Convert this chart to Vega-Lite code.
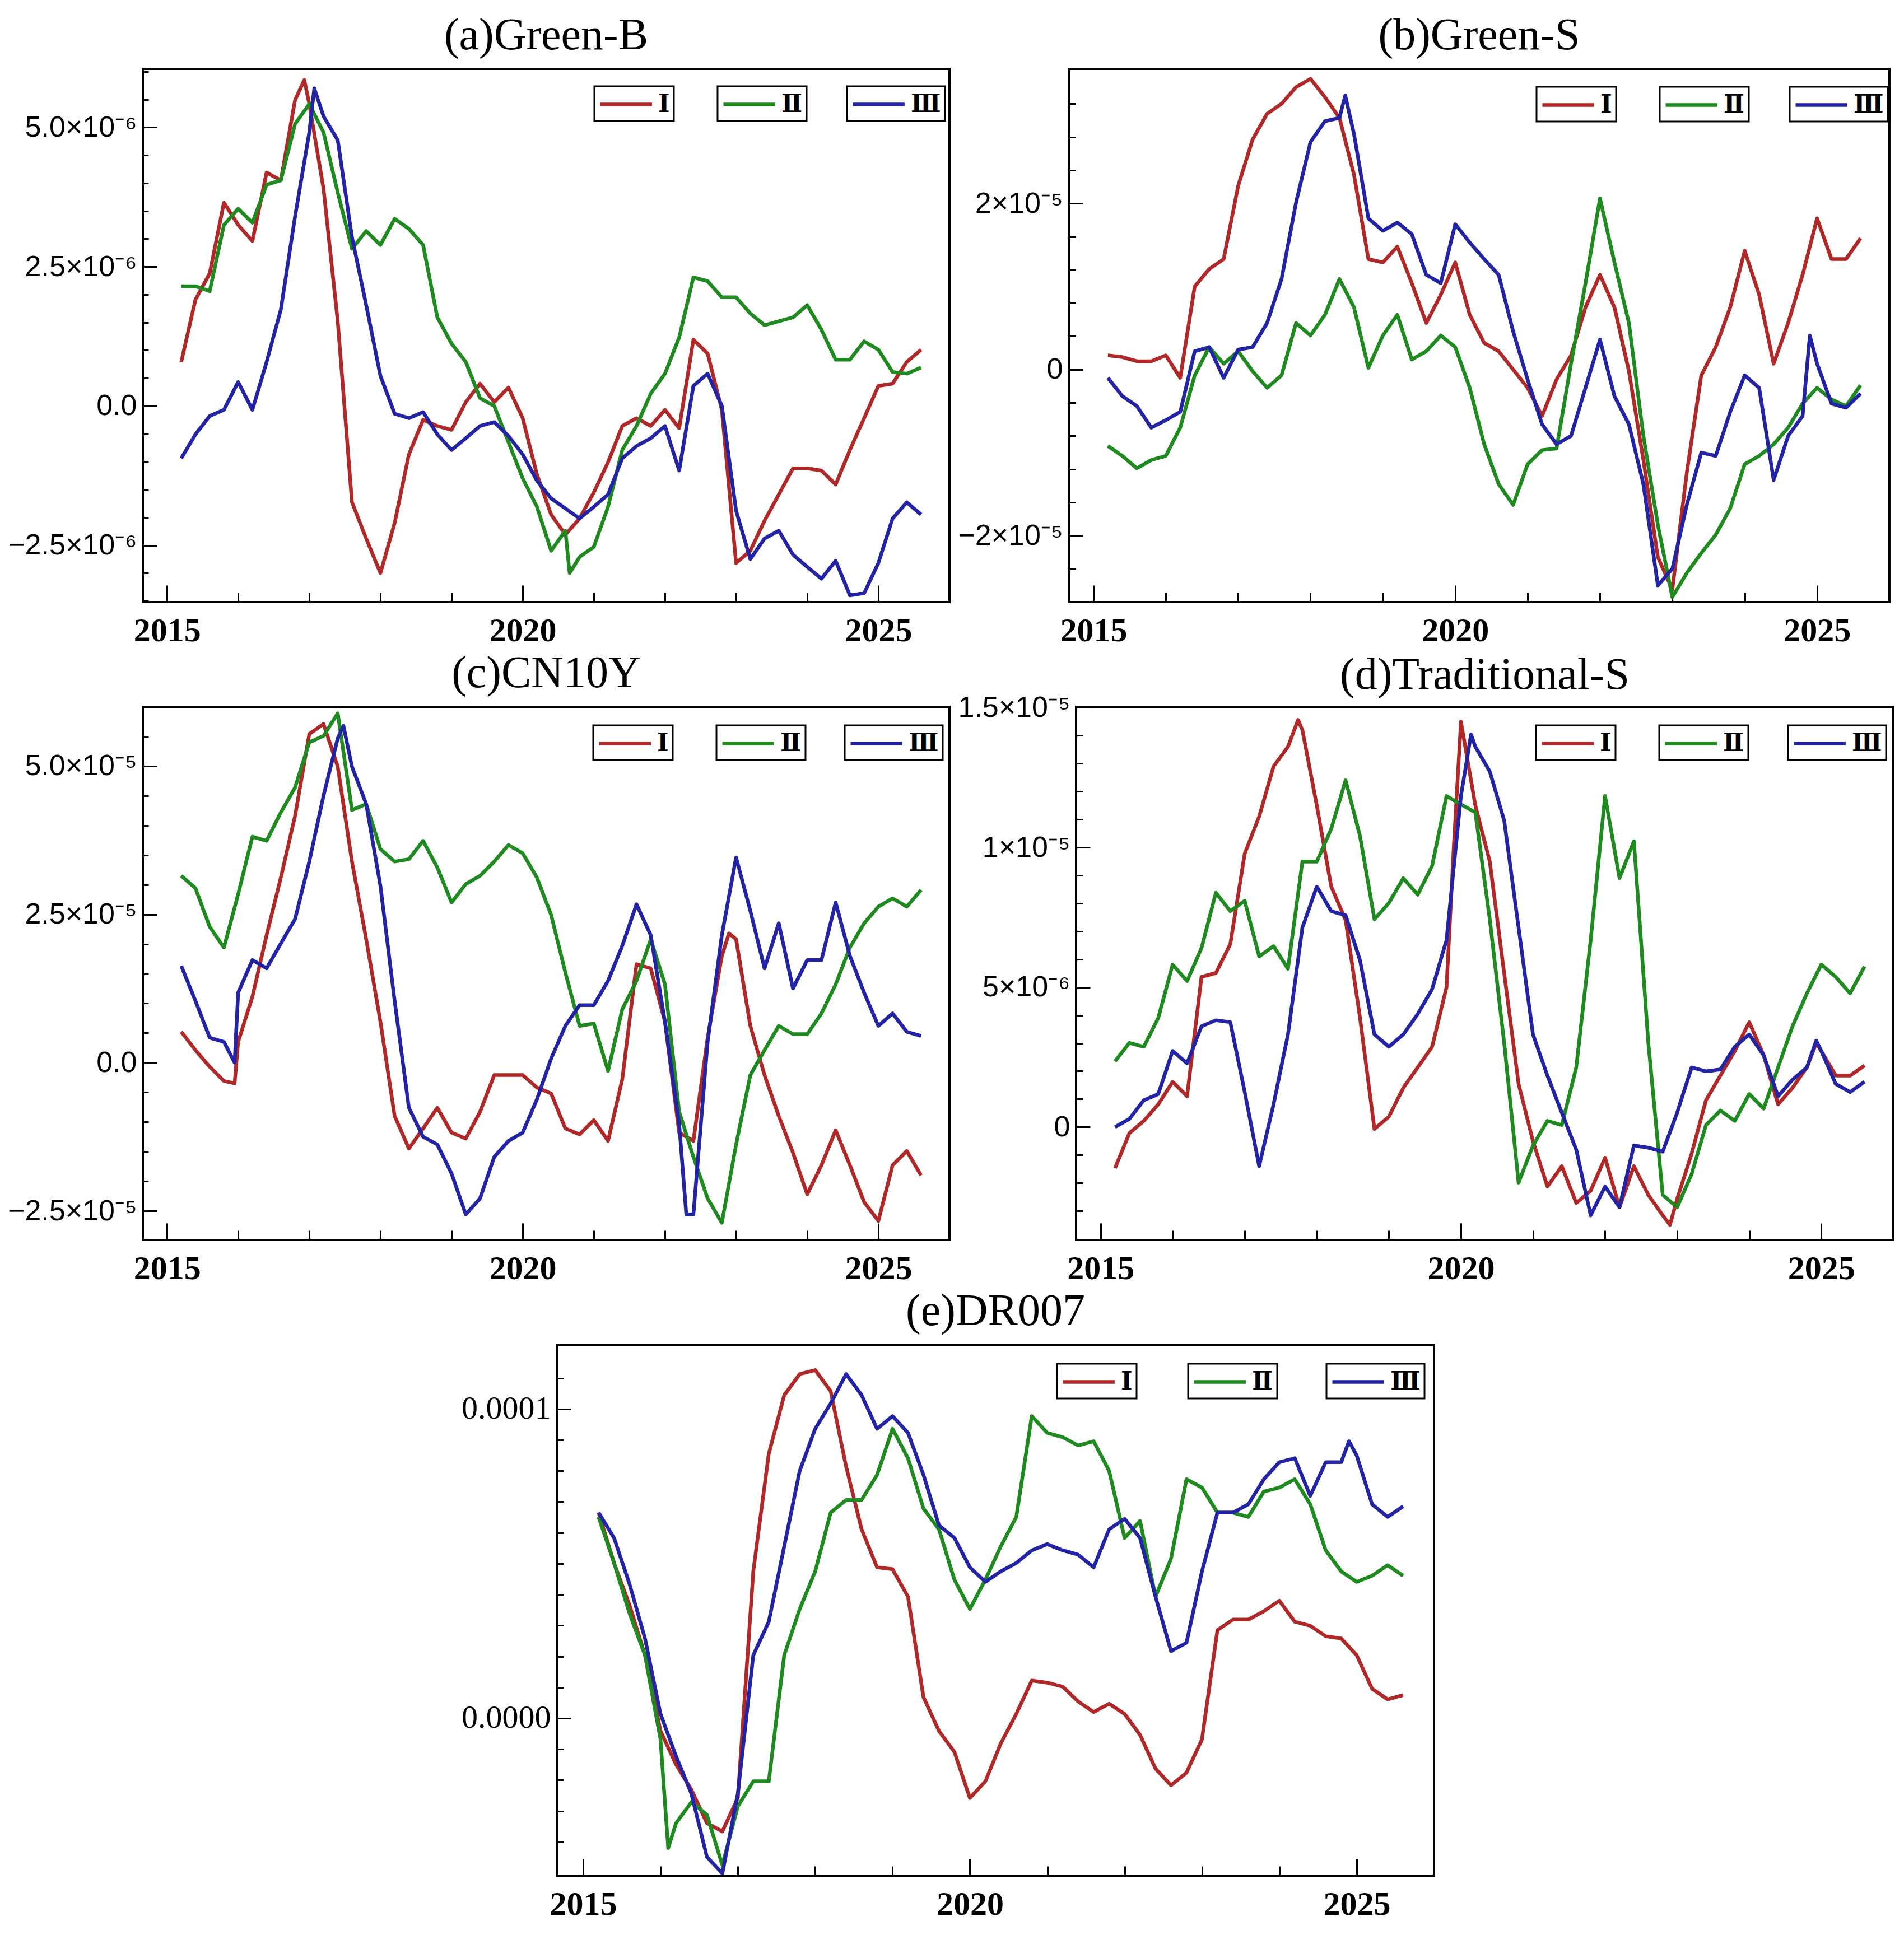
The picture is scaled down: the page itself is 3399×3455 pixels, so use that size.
{
  "$schema": "https://vega.github.io/schema/vega-lite/v6.json",
  "background": "white",
  "padding": {"left": 11, "top": 22, "right": 0, "bottom": 0},
  "spacing": 3,
  "config": {
    "font": "Liberation Serif",
    "view": {"stroke": "#000", "strokeWidth": 4},
    "mark": {"invalid": "filter"},
    "line": {"strokeWidth": 6.5, "strokeJoin": "round"},
    "title": {"font": "Liberation Serif", "fontSize": 80, "fontWeight": "normal", "color": "#000", "offset": 18},
    "axis": {"domain": false, "grid": false, "tickColor": "#000", "tickWidth": 3, "labelColor": "#000"},
    "axisX": {"labelFont": "Liberation Serif", "labelFontSize": 60, "labelFontWeight": "bold", "labelPadding": 52},
    "axisY": {"labelFont": "Liberation Sans", "labelFontSize": 52, "labelPadding": 36, "labelLimit": 400},
    "legend": {"title": null, "symbolType": "M-1,0H3.2", "symbolSize": 1936, "symbolStrokeWidth": 6, "labelFont": "DejaVu Serif", "labelFontSize": 44, "labelFontWeight": "bold", "labelColor": "#000", "strokeColor": "#000", "strokeWidth": 3, "padding": 7, "labelOffset": 56}
  },
  "datasets": {
    "a": [
      {"x":2015.2,"I":0.79e-6,"II":2.15e-6,"III":-0.94e-6},
      {"x":2015.4,"I":1.91e-6,"II":2.15e-6,"III":-0.51e-6},
      {"x":2015.6,"I":2.38e-6,"II":2.06e-6,"III":-0.18e-6},
      {"x":2015.8,"I":3.65e-6,"II":3.25e-6,"III":-0.07e-6},
      {"x":2016.0,"I":3.25e-6,"II":3.54e-6,"III":0.43e-6},
      {"x":2016.2,"I":2.96e-6,"II":3.29e-6,"III":-0.07e-6},
      {"x":2016.4,"I":4.19e-6,"II":3.97e-6,"III":0.79e-6},
      {"x":2016.6,"I":4.05e-6,"II":4.05e-6,"III":1.73e-6},
      {"x":2016.8,"I":5.49e-6,"II":5.06e-6,"III":3.4e-6},
      {"x":2016.93,"I":5.85e-6},
      {"x":2017.0,"I":5.42e-6,"II":5.42e-6,"III":4.91e-6},
      {"x":2017.07,"III":5.7e-6},
      {"x":2017.2,"I":3.9e-6,"II":4.91e-6,"III":5.2e-6},
      {"x":2017.4,"I":1.52e-6,"II":3.83e-6,"III":4.77e-6},
      {"x":2017.6,"I":-1.73e-6,"II":2.82e-6,"III":3.03e-6},
      {"x":2017.8,"I":-2.38e-6,"II":3.14e-6,"III":1.81e-6},
      {"x":2018.0,"I":-3.0e-6,"II":2.89e-6,"III":0.54e-6},
      {"x":2018.2,"I":-2.1e-6,"II":3.36e-6,"III":-0.14e-6},
      {"x":2018.4,"I":-0.87e-6,"II":3.18e-6,"III":-0.22e-6},
      {"x":2018.6,"I":-0.25e-6,"II":2.89e-6,"III":-0.11e-6},
      {"x":2018.8,"I":-0.36e-6,"II":1.59e-6,"III":-0.51e-6},
      {"x":2019.0,"I":-0.43e-6,"II":1.12e-6,"III":-0.79e-6},
      {"x":2019.2,"I":0.07e-6,"II":0.79e-6,"III":-0.58e-6},
      {"x":2019.4,"I":0.4e-6,"II":0.14e-6,"III":-0.36e-6},
      {"x":2019.6,"I":0.07e-6,"II":0.0,"III":-0.29e-6},
      {"x":2019.8,"I":0.33e-6,"II":-0.65e-6,"III":-0.54e-6},
      {"x":2020.0,"I":-0.22e-6,"II":-1.3e-6,"III":-0.87e-6},
      {"x":2020.2,"I":-1.23e-6,"II":-1.81e-6,"III":-1.34e-6},
      {"x":2020.4,"I":-1.95e-6,"II":-2.6e-6,"III":-1.66e-6},
      {"x":2020.6,"I":-2.31e-6,"II":-2.24e-6,"III":-1.84e-6},
      {"x":2020.66,"II":-3.0e-6},
      {"x":2020.8,"I":-2.02e-6,"II":-2.71e-6,"III":-2.02e-6},
      {"x":2021.0,"I":-1.55e-6,"II":-2.53e-6,"III":-1.81e-6},
      {"x":2021.2,"I":-1.01e-6,"II":-1.81e-6,"III":-1.59e-6},
      {"x":2021.4,"I":-0.36e-6,"II":-0.79e-6,"III":-0.94e-6},
      {"x":2021.6,"I":-0.22e-6,"II":-0.36e-6,"III":-0.72e-6},
      {"x":2021.8,"I":-0.36e-6,"II":0.22e-6,"III":-0.58e-6},
      {"x":2022.0,"I":-0.07e-6,"II":0.58e-6,"III":-0.36e-6},
      {"x":2022.2,"I":-0.4e-6,"II":1.23e-6,"III":-1.16e-6},
      {"x":2022.4,"I":1.19e-6,"II":2.31e-6,"III":0.36e-6},
      {"x":2022.6,"I":0.94e-6,"II":2.24e-6,"III":0.58e-6},
      {"x":2022.8,"I":-0.07e-6,"II":1.95e-6,"III":0.0},
      {"x":2023.0,"I":-2.82e-6,"II":1.95e-6,"III":-1.88e-6},
      {"x":2023.2,"I":-2.6e-6,"II":1.66e-6,"III":-2.75e-6},
      {"x":2023.4,"I":-2.06e-6,"II":1.45e-6,"III":-2.38e-6},
      {"x":2023.6,"I":-1.59e-6,"II":1.52e-6,"III":-2.24e-6},
      {"x":2023.8,"I":-1.12e-6,"II":1.59e-6,"III":-2.67e-6},
      {"x":2024.0,"I":-1.12e-6,"II":1.81e-6,"III":-2.89e-6},
      {"x":2024.2,"I":-1.16e-6,"II":1.37e-6,"III":-3.1e-6},
      {"x":2024.4,"I":-1.41e-6,"II":0.83e-6,"III":-2.78e-6},
      {"x":2024.6,"I":-0.79e-6,"II":0.83e-6,"III":-3.4e-6},
      {"x":2024.8,"I":-0.22e-6,"II":1.16e-6,"III":-3.36e-6},
      {"x":2025.0,"I":0.36e-6,"II":1.01e-6,"III":-2.82e-6},
      {"x":2025.2,"I":0.4e-6,"II":0.61e-6,"III":-2.02e-6},
      {"x":2025.4,"I":0.79e-6,"II":0.58e-6,"III":-1.73e-6},
      {"x":2025.6,"I":1.01e-6,"II":0.69e-6,"III":-1.95e-6}
    ],
    "b": [
      {"x":2015.2,"I":0.17e-5,"II":-0.92e-5,"III":-0.1e-5},
      {"x":2015.4,"I":0.15e-5,"II":-1.04e-5,"III":-0.32e-5},
      {"x":2015.6,"I":0.1e-5,"II":-1.19e-5,"III":-0.44e-5},
      {"x":2015.8,"I":0.1e-5,"II":-1.09e-5,"III":-0.7e-5},
      {"x":2016.0,"I":0.17e-5,"II":-1.04e-5,"III":-0.61e-5},
      {"x":2016.2,"I":-0.1e-5,"II":-0.7e-5,"III":-0.51e-5},
      {"x":2016.4,"I":1.0e-5,"II":-0.07e-5,"III":0.22e-5},
      {"x":2016.6,"I":1.21e-5,"II":0.27e-5,"III":0.27e-5},
      {"x":2016.8,"I":1.33e-5,"II":0.07e-5,"III":-0.1e-5},
      {"x":2017.0,"I":2.21e-5,"II":0.22e-5,"III":0.24e-5},
      {"x":2017.2,"I":2.77e-5,"II":-0.02e-5,"III":0.27e-5},
      {"x":2017.4,"I":3.08e-5,"II":-0.22e-5,"III":0.56e-5},
      {"x":2017.6,"I":3.2e-5,"II":-0.07e-5,"III":1.09e-5},
      {"x":2017.8,"I":3.4e-5,"II":0.56e-5,"III":2.01e-5},
      {"x":2018.0,"I":3.5e-5,"II":0.41e-5,"III":2.74e-5},
      {"x":2018.2,"I":3.28e-5,"II":0.66e-5,"III":2.99e-5},
      {"x":2018.4,"I":3.03e-5,"II":1.09e-5,"III":3.03e-5},
      {"x":2018.48,"III":3.3e-5},
      {"x":2018.6,"I":2.35e-5,"II":0.75e-5,"III":2.84e-5},
      {"x":2018.8,"I":1.33e-5,"II":0.02e-5,"III":1.82e-5},
      {"x":2019.0,"I":1.29e-5,"II":0.41e-5,"III":1.67e-5},
      {"x":2019.2,"I":1.48e-5,"II":0.66e-5,"III":1.77e-5},
      {"x":2019.4,"I":1.04e-5,"II":0.12e-5,"III":1.63e-5},
      {"x":2019.6,"I":0.56e-5,"II":0.22e-5,"III":1.14e-5},
      {"x":2019.8,"I":0.9e-5,"II":0.41e-5,"III":1.04e-5},
      {"x":2020.0,"I":1.29e-5,"II":0.27e-5,"III":1.75e-5},
      {"x":2020.2,"I":0.66e-5,"II":-0.22e-5,"III":1.53e-5},
      {"x":2020.4,"I":0.32e-5,"II":-0.9e-5,"III":1.33e-5},
      {"x":2020.6,"I":0.22e-5,"II":-1.38e-5,"III":1.14e-5},
      {"x":2020.8,"I":0.0,"II":-1.63e-5,"III":0.46e-5},
      {"x":2021.0,"I":-0.22e-5,"II":-1.14e-5,"III":-0.12e-5},
      {"x":2021.2,"I":-0.56e-5,"II":-0.97e-5,"III":-0.66e-5},
      {"x":2021.4,"I":-0.12e-5,"II":-0.95e-5,"III":-0.9e-5},
      {"x":2021.6,"I":0.17e-5,"II":0.07e-5,"III":-0.8e-5},
      {"x":2021.8,"I":0.75e-5,"II":1.04e-5,"III":-0.22e-5},
      {"x":2022.0,"I":1.14e-5,"II":2.06e-5,"III":0.36e-5},
      {"x":2022.2,"I":0.75e-5,"II":1.29e-5,"III":-0.32e-5},
      {"x":2022.4,"I":-0.02e-5,"II":0.56e-5,"III":-0.66e-5},
      {"x":2022.6,"I":-1.09e-5,"II":-0.8e-5,"III":-1.38e-5},
      {"x":2022.8,"I":-2.26e-5,"II":-1.87e-5,"III":-2.6e-5},
      {"x":2023.0,"I":-2.65e-5,"II":-2.74e-5,"III":-2.4e-5},
      {"x":2023.2,"I":-1.24e-5,"II":-2.45e-5,"III":-1.63e-5},
      {"x":2023.4,"I":-0.07e-5,"II":-2.21e-5,"III":-1.0e-5},
      {"x":2023.6,"I":0.27e-5,"II":-1.99e-5,"III":-1.04e-5},
      {"x":2023.8,"I":0.75e-5,"II":-1.67e-5,"III":-0.51e-5},
      {"x":2024.0,"I":1.43e-5,"II":-1.14e-5,"III":-0.07e-5},
      {"x":2024.2,"I":0.9e-5,"II":-1.04e-5,"III":-0.22e-5},
      {"x":2024.4,"I":0.07e-5,"II":-0.9e-5,"III":-1.33e-5},
      {"x":2024.6,"I":0.56e-5,"II":-0.7e-5,"III":-0.8e-5},
      {"x":2024.8,"I":1.14e-5,"II":-0.41e-5,"III":-0.56e-5},
      {"x":2024.9,"III":0.41e-5},
      {"x":2025.0,"I":1.82e-5,"II":-0.22e-5,"III":0.07e-5},
      {"x":2025.2,"I":1.33e-5,"II":-0.36e-5,"III":-0.41e-5},
      {"x":2025.4,"I":1.33e-5,"II":-0.44e-5,"III":-0.46e-5},
      {"x":2025.6,"I":1.58e-5,"II":-0.19e-5,"III":-0.29e-5}
    ],
    "c": [
      {"x":2015.2,"I":0.52e-5,"II":3.15e-5,"III":1.63e-5},
      {"x":2015.4,"I":0.21e-5,"II":2.94e-5,"III":1.04e-5},
      {"x":2015.6,"I":-0.07e-5,"II":2.29e-5,"III":0.42e-5},
      {"x":2015.8,"I":-0.31e-5,"II":1.94e-5,"III":0.35e-5},
      {"x":2015.95,"I":-0.35e-5,"III":0.0},
      {"x":2016.0,"I":0.35e-5,"II":2.84e-5,"III":1.18e-5},
      {"x":2016.2,"I":1.11e-5,"II":3.81e-5,"III":1.73e-5},
      {"x":2016.4,"I":2.15e-5,"II":3.74e-5,"III":1.59e-5},
      {"x":2016.6,"I":3.12e-5,"II":4.22e-5,"III":2.01e-5},
      {"x":2016.8,"I":4.16e-5,"II":4.64e-5,"III":2.42e-5},
      {"x":2017.0,"I":5.54e-5,"II":5.4e-5,"III":3.39e-5},
      {"x":2017.2,"I":5.71e-5,"II":5.51e-5,"III":4.5e-5},
      {"x":2017.4,"I":4.99e-5,"II":5.89e-5,"III":5.47e-5},
      {"x":2017.48,"III":5.68e-5},
      {"x":2017.6,"I":3.39e-5,"II":4.26e-5,"III":4.99e-5},
      {"x":2017.8,"I":2.08e-5,"II":4.36e-5,"III":4.36e-5},
      {"x":2018.0,"I":0.69e-5,"II":3.6e-5,"III":2.98e-5},
      {"x":2018.2,"I":-0.9e-5,"II":3.39e-5,"III":1.04e-5},
      {"x":2018.4,"I":-1.45e-5,"II":3.43e-5,"III":-0.76e-5},
      {"x":2018.6,"I":-1.11e-5,"II":3.74e-5,"III":-1.25e-5},
      {"x":2018.8,"I":-0.76e-5,"II":3.29e-5,"III":-1.38e-5},
      {"x":2019.0,"I":-1.18e-5,"II":2.7e-5,"III":-1.87e-5},
      {"x":2019.2,"I":-1.28e-5,"II":3.01e-5,"III":-2.56e-5},
      {"x":2019.4,"I":-0.83e-5,"II":3.15e-5,"III":-2.29e-5},
      {"x":2019.6,"I":-0.21e-5,"II":3.39e-5,"III":-1.59e-5},
      {"x":2019.8,"I":-0.21e-5,"II":3.67e-5,"III":-1.32e-5},
      {"x":2020.0,"I":-0.21e-5,"II":3.53e-5,"III":-1.18e-5},
      {"x":2020.2,"I":-0.42e-5,"II":3.12e-5,"III":-0.62e-5},
      {"x":2020.4,"I":-0.52e-5,"II":2.49e-5,"III":0.07e-5},
      {"x":2020.6,"I":-1.11e-5,"II":1.52e-5,"III":0.62e-5},
      {"x":2020.8,"I":-1.21e-5,"II":0.62e-5,"III":0.97e-5},
      {"x":2021.0,"I":-0.97e-5,"II":0.66e-5,"III":0.97e-5},
      {"x":2021.2,"I":-1.32e-5,"II":-0.14e-5,"III":1.38e-5},
      {"x":2021.4,"I":-0.28e-5,"II":0.9e-5,"III":1.97e-5},
      {"x":2021.6,"I":1.66e-5,"II":1.38e-5,"III":2.67e-5},
      {"x":2021.8,"I":1.59e-5,"II":2.08e-5,"III":2.15e-5},
      {"x":2022.0,"I":0.69e-5,"II":1.32e-5,"III":0.69e-5},
      {"x":2022.2,"I":-1.18e-5,"II":-0.83e-5,"III":-1.04e-5},
      {"x":2022.3,"III":-2.56e-5},
      {"x":2022.4,"I":-1.32e-5,"II":-1.59e-5,"III":-2.56e-5},
      {"x":2022.6,"I":0.42e-5,"II":-2.29e-5,"III":0.35e-5},
      {"x":2022.8,"I":1.8e-5,"II":-2.7e-5,"III":2.15e-5},
      {"x":2022.9,"I":2.18e-5},
      {"x":2023.0,"I":2.08e-5,"II":-1.38e-5,"III":3.46e-5},
      {"x":2023.2,"I":0.62e-5,"II":-0.21e-5,"III":2.56e-5},
      {"x":2023.4,"I":-0.21e-5,"II":0.21e-5,"III":1.59e-5},
      {"x":2023.6,"I":-0.9e-5,"II":0.62e-5,"III":2.35e-5},
      {"x":2023.8,"I":-1.52e-5,"II":0.48e-5,"III":1.25e-5},
      {"x":2024.0,"I":-2.22e-5,"II":0.48e-5,"III":1.73e-5},
      {"x":2024.2,"I":-1.73e-5,"II":0.83e-5,"III":1.73e-5},
      {"x":2024.4,"I":-1.14e-5,"II":1.32e-5,"III":2.7e-5},
      {"x":2024.6,"I":-1.73e-5,"II":1.94e-5,"III":1.8e-5},
      {"x":2024.8,"I":-2.35e-5,"II":2.35e-5,"III":1.18e-5},
      {"x":2025.0,"I":-2.67e-5,"II":2.63e-5,"III":0.62e-5},
      {"x":2025.2,"I":-1.73e-5,"II":2.77e-5,"III":0.83e-5},
      {"x":2025.4,"I":-1.49e-5,"II":2.63e-5,"III":0.52e-5},
      {"x":2025.6,"I":-1.9e-5,"II":2.91e-5,"III":0.45e-5}
    ],
    "d": [
      {"x":2015.2,"I":-1.47e-6,"II":2.35e-6,"III":0.0},
      {"x":2015.4,"I":-0.22e-6,"II":3.01e-6,"III":0.29e-6},
      {"x":2015.6,"I":0.22e-6,"II":2.87e-6,"III":0.96e-6},
      {"x":2015.8,"I":0.81e-6,"II":3.9e-6,"III":1.18e-6},
      {"x":2016.0,"I":1.62e-6,"II":5.81e-6,"III":2.72e-6},
      {"x":2016.2,"I":1.1e-6,"II":5.22e-6,"III":2.28e-6},
      {"x":2016.4,"I":5.37e-6,"II":6.4e-6,"III":3.6e-6},
      {"x":2016.6,"I":5.51e-6,"II":8.38e-6,"III":3.82e-6},
      {"x":2016.8,"I":6.54e-6,"II":7.72e-6,"III":3.75e-6},
      {"x":2017.0,"I":9.78e-6,"II":8.09e-6,"III":1.25e-6},
      {"x":2017.2,"I":11.1e-6,"II":6.1e-6,"III":-1.4e-6},
      {"x":2017.4,"I":12.9e-6,"II":6.47e-6,"III":0.81e-6},
      {"x":2017.6,"I":13.6e-6,"II":5.66e-6,"III":3.31e-6},
      {"x":2017.74,"I":14.56e-6},
      {"x":2017.8,"I":14.2e-6,"II":9.49e-6,"III":7.13e-6},
      {"x":2018.0,"I":11.5e-6,"II":9.49e-6,"III":8.6e-6},
      {"x":2018.2,"I":8.6e-6,"II":10.66e-6,"III":7.72e-6},
      {"x":2018.4,"I":7.4e-6,"II":12.4e-6,"III":7.57e-6},
      {"x":2018.6,"I":3.9e-6,"II":10.4e-6,"III":5.96e-6},
      {"x":2018.8,"I":-0.07e-6,"II":7.43e-6,"III":3.31e-6},
      {"x":2019.0,"I":0.37e-6,"II":8.01e-6,"III":2.87e-6},
      {"x":2019.2,"I":1.4e-6,"II":8.9e-6,"III":3.31e-6},
      {"x":2019.4,"I":2.13e-6,"II":8.31e-6,"III":4.04e-6},
      {"x":2019.6,"I":2.87e-6,"II":9.34e-6,"III":4.93e-6},
      {"x":2019.8,"I":5.0e-6,"II":11.84e-6,"III":6.69e-6},
      {"x":2019.9,"I":10.0e-6},
      {"x":2020.0,"I":14.5e-6,"II":11.54e-6,"III":11.84e-6},
      {"x":2020.14,"III":14.04e-6},
      {"x":2020.2,"I":11.5e-6,"II":11.25e-6,"III":13.6e-6},
      {"x":2020.4,"I":9.5e-6,"II":7.43e-6,"III":12.72e-6},
      {"x":2020.6,"I":5.5e-6,"II":3.01e-6,"III":10.96e-6},
      {"x":2020.8,"I":1.54e-6,"II":-1.99e-6,"III":7.13e-6},
      {"x":2021.0,"I":-0.51e-6,"II":-0.66e-6,"III":3.31e-6},
      {"x":2021.2,"I":-2.13e-6,"II":0.22e-6,"III":1.84e-6},
      {"x":2021.4,"I":-1.4e-6,"II":0.07e-6,"III":0.51e-6},
      {"x":2021.6,"I":-2.72e-6,"II":2.13e-6,"III":-0.81e-6},
      {"x":2021.8,"I":-2.28e-6,"II":6.69e-6,"III":-3.16e-6},
      {"x":2022.0,"I":-1.1e-6,"II":11.84e-6,"III":-2.13e-6},
      {"x":2022.2,"I":-2.87e-6,"II":8.9e-6,"III":-2.87e-6},
      {"x":2022.4,"I":-1.4e-6,"II":10.22e-6,"III":-0.66e-6},
      {"x":2022.6,"I":-2.43e-6,"II":3.01e-6,"III":-0.74e-6},
      {"x":2022.8,"I":-3.16e-6,"II":-2.43e-6,"III":-0.88e-6},
      {"x":2022.9,"I":-3.5e-6},
      {"x":2023.0,"I":-2.57e-6,"II":-2.87e-6,"III":0.51e-6},
      {"x":2023.2,"I":-0.96e-6,"II":-1.69e-6,"III":2.13e-6},
      {"x":2023.4,"I":0.96e-6,"II":0.07e-6,"III":1.99e-6},
      {"x":2023.6,"I":1.84e-6,"II":0.59e-6,"III":2.06e-6},
      {"x":2023.8,"I":2.72e-6,"II":0.22e-6,"III":2.87e-6},
      {"x":2024.0,"I":3.75e-6,"II":1.18e-6,"III":3.31e-6},
      {"x":2024.2,"I":2.57e-6,"II":0.66e-6,"III":2.57e-6},
      {"x":2024.4,"I":0.81e-6,"II":2.13e-6,"III":1.1e-6},
      {"x":2024.6,"I":1.4e-6,"II":3.6e-6,"III":1.69e-6},
      {"x":2024.8,"I":2.13e-6,"II":4.78e-6,"III":2.13e-6},
      {"x":2024.93,"I":3.0e-6,"III":3.09e-6},
      {"x":2025.0,"I":2.72e-6,"II":5.81e-6,"III":2.72e-6},
      {"x":2025.2,"I":1.84e-6,"II":5.37e-6,"III":1.54e-6},
      {"x":2025.4,"I":1.84e-6,"II":4.78e-6,"III":1.25e-6},
      {"x":2025.6,"I":2.2e-6,"II":5.74e-6,"III":1.62e-6}
    ],
    "e": [
      {"x":2015.2,"I":6.65e-5,"II":6.51e-5,"III":6.65e-5},
      {"x":2015.4,"I":5.02e-5,"II":5.02e-5,"III":5.83e-5},
      {"x":2015.6,"I":3.66e-5,"II":3.39e-5,"III":4.34e-5},
      {"x":2015.8,"I":2.04e-5,"II":2.04e-5,"III":2.58e-5},
      {"x":2016.0,"I":-0.41e-5,"II":-0.68e-5,"III":0.14e-5},
      {"x":2016.1,"II":-4.2e-5},
      {"x":2016.2,"I":-1.49e-5,"II":-3.4e-5,"III":-1.22e-5},
      {"x":2016.4,"I":-2.31e-5,"II":-2.71e-5,"III":-2.44e-5},
      {"x":2016.6,"I":-3.39e-5,"II":-3.12e-5,"III":-4.48e-5},
      {"x":2016.8,"I":-3.66e-5,"II":-4.75e-5,"III":-5.02e-5},
      {"x":2017.0,"I":-2.58e-5,"II":-2.85e-5,"III":-2.44e-5},
      {"x":2017.2,"I":4.75e-5,"II":-2.04e-5,"III":2.04e-5},
      {"x":2017.4,"I":8.55e-5,"II":-2.04e-5,"III":3.12e-5},
      {"x":2017.6,"I":10.45e-5,"II":2.04e-5,"III":5.56e-5},
      {"x":2017.8,"I":11.13e-5,"II":3.53e-5,"III":8.0e-5},
      {"x":2018.0,"I":11.26e-5,"II":4.75e-5,"III":9.36e-5},
      {"x":2018.2,"I":10.58e-5,"II":6.65e-5,"III":10.18e-5},
      {"x":2018.4,"I":8.14e-5,"II":7.06e-5,"III":11.13e-5},
      {"x":2018.6,"I":6.11e-5,"II":7.06e-5,"III":10.45e-5},
      {"x":2018.8,"I":4.88e-5,"II":7.87e-5,"III":9.36e-5},
      {"x":2019.0,"I":4.82e-5,"II":9.36e-5,"III":9.77e-5},
      {"x":2019.2,"I":3.93e-5,"II":8.41e-5,"III":9.23e-5},
      {"x":2019.4,"I":0.68e-5,"II":6.78e-5,"III":7.87e-5},
      {"x":2019.6,"I":-0.41e-5,"II":6.11e-5,"III":6.24e-5},
      {"x":2019.8,"I":-1.09e-5,"II":4.48e-5,"III":5.83e-5},
      {"x":2020.0,"I":-2.58e-5,"II":3.53e-5,"III":4.88e-5},
      {"x":2020.2,"I":-2.04e-5,"II":4.48e-5,"III":4.41e-5},
      {"x":2020.4,"I":-0.81e-5,"II":5.56e-5,"III":4.75e-5},
      {"x":2020.6,"I":0.14e-5,"II":6.51e-5,"III":5.02e-5},
      {"x":2020.8,"I":1.22e-5,"II":9.77e-5,"III":5.43e-5},
      {"x":2021.0,"I":1.15e-5,"II":9.23e-5,"III":5.63e-5},
      {"x":2021.2,"I":1.02e-5,"II":9.09e-5,"III":5.43e-5},
      {"x":2021.4,"I":0.54e-5,"II":8.82e-5,"III":5.29e-5},
      {"x":2021.6,"I":0.2e-5,"II":8.96e-5,"III":4.88e-5},
      {"x":2021.8,"I":0.47e-5,"II":8.0e-5,"III":6.11e-5},
      {"x":2022.0,"I":0.14e-5,"II":5.83e-5,"III":6.45e-5},
      {"x":2022.2,"I":-0.54e-5,"II":6.38e-5,"III":5.83e-5},
      {"x":2022.4,"I":-1.63e-5,"II":3.93e-5,"III":3.93e-5},
      {"x":2022.6,"I":-2.17e-5,"II":5.16e-5,"III":2.17e-5},
      {"x":2022.8,"I":-1.76e-5,"II":7.73e-5,"III":2.44e-5},
      {"x":2023.0,"I":-0.68e-5,"II":7.46e-5,"III":4.75e-5},
      {"x":2023.2,"I":2.85e-5,"II":6.65e-5,"III":6.65e-5},
      {"x":2023.4,"I":3.19e-5,"II":6.65e-5,"III":6.65e-5},
      {"x":2023.6,"I":3.19e-5,"II":6.51e-5,"III":6.92e-5},
      {"x":2023.8,"I":3.46e-5,"II":7.33e-5,"III":7.73e-5},
      {"x":2024.0,"I":3.8e-5,"II":7.46e-5,"III":8.28e-5},
      {"x":2024.2,"I":3.12e-5,"II":7.73e-5,"III":8.41e-5},
      {"x":2024.4,"I":2.99e-5,"II":6.92e-5,"III":7.19e-5},
      {"x":2024.6,"I":2.65e-5,"II":5.43e-5,"III":8.28e-5},
      {"x":2024.8,"I":2.58e-5,"II":4.75e-5,"III":8.28e-5},
      {"x":2024.9,"III":8.96e-5},
      {"x":2025.0,"I":2.04e-5,"II":4.41e-5,"III":8.5e-5},
      {"x":2025.2,"I":0.95e-5,"II":4.61e-5,"III":6.92e-5},
      {"x":2025.4,"I":0.61e-5,"II":4.95e-5,"III":6.51e-5},
      {"x":2025.6,"I":0.75e-5,"II":4.61e-5,"III":6.85e-5}
    ]
  },
  "vconcat": [
    {
      "spacing": 10,
      "hconcat": [
        {
          "title": "(a)Green-B",
          "width": 1440,
          "height": 952,
          "data": {"name": "a"},
          "layer": [
            {
              "mark": "line",
              "encoding": {
                "x": {"field": "x", "type": "quantitative", "title": null, "scale": {"domain": [2014.66, 2026], "nice": false, "zero": false},
                  "axis": {"values": [2015, 2020, 2025], "format": "d", "tickSize": -30, "orient": "bottom"}},
                "y": {"field": "I", "type": "quantitative", "title": null, "scale": {"domain": [-3.52e-6, 6.05e-6], "nice": false, "zero": false},
                  "axis": {"values": [-2.5e-6, 0, 2.5e-6, 5e-6], "tickSize": -25, "orient": "left", "minExtent": 230, "maxExtent": 230,
                    "labelExpr": "datum.value > 4e-6 ? '5.0×10⁻⁶' : datum.value > 1e-6 ? '2.5×10⁻⁶' : datum.value > -1e-6 ? '0.0' : '−2.5×10⁻⁶'"}},
                "color": {"datum": "Ⅰ", "scale": {"domain": ["Ⅰ"], "range": ["#B02828"]}, "legend": {"orient": "none", "legendX": 806, "legendY": 31}}
              }
            },
            {
              "mark": "line",
              "encoding": {
                "x": {"field": "x", "type": "quantitative", "title": null, "scale": {"domain": [2014.66, 2026], "nice": false, "zero": false},
                  "axis": {"values": [2015, 2016, 2017, 2018, 2019, 2020, 2021, 2022, 2023, 2024, 2025], "labels": false, "tickSize": -17, "orient": "bottom"}},
                "y": {"field": "II", "type": "quantitative", "title": null, "scale": {"domain": [-3.52e-6, 6.05e-6], "nice": false, "zero": false},
                  "axis": {"values": [-3.5e-6, -3e-6, -2e-6, -1.5e-6, -1e-6, -5e-7, 5e-7, 1e-6, 1.5e-6, 2e-6, 3e-6, 3.5e-6, 4e-6, 4.5e-6, 5.5e-6, 6e-6], "labels": false, "tickSize": -10, "orient": "left"}},
                "color": {"datum": "Ⅱ", "scale": {"domain": ["Ⅱ"], "range": ["#1F8A1F"]}, "legend": {"orient": "none", "legendX": 1026, "legendY": 31}}
              }
            },
            {
              "mark": "line",
              "encoding": {
                "x": {"field": "x", "type": "quantitative", "title": null, "scale": {"domain": [2014.66, 2026], "nice": false, "zero": false}, "axis": null},
                "y": {"field": "III", "type": "quantitative", "title": null, "scale": {"domain": [-3.52e-6, 6.05e-6], "nice": false, "zero": false}, "axis": null},
                "color": {"datum": "Ⅲ", "scale": {"domain": ["Ⅲ"], "range": ["#2323A6"]}, "legend": {"orient": "none", "legendX": 1257, "legendY": 31}}
              }
            }
          ],
          "resolve": {"scale": {"color": "independent"}, "axis": {"x": "independent", "y": "independent"}}
        },
        {
          "title": "(b)Green-S",
          "width": 1465,
          "height": 952,
          "data": {"name": "b"},
          "layer": [
            {
              "mark": "line",
              "encoding": {
                "x": {"field": "x", "type": "quantitative", "title": null, "scale": {"domain": [2014.66, 2026], "nice": false, "zero": false},
                  "axis": {"values": [2015, 2020, 2025], "format": "d", "tickSize": -30, "orient": "bottom"}},
                "y": {"field": "I", "type": "quantitative", "title": null, "scale": {"domain": [-2.8e-5, 3.62e-5], "nice": false, "zero": false},
                  "axis": {"values": [-2e-5, 0, 2e-5], "tickSize": -25, "orient": "left", "minExtent": 196, "maxExtent": 196,
                    "labelExpr": "datum.value > 1e-5 ? '2×10⁻⁵' : datum.value > -1e-5 ? '0' : '−2×10⁻⁵'"}},
                "color": {"datum": "Ⅰ", "scale": {"domain": ["Ⅰ"], "range": ["#B02828"]}, "legend": {"orient": "none", "legendX": 835, "legendY": 32}}
              }
            },
            {
              "mark": "line",
              "encoding": {
                "x": {"field": "x", "type": "quantitative", "title": null, "scale": {"domain": [2014.66, 2026], "nice": false, "zero": false},
                  "axis": {"values": [2015, 2016, 2017, 2018, 2019, 2020, 2021, 2022, 2023, 2024, 2025], "labels": false, "tickSize": -17, "orient": "bottom"}},
                "y": {"field": "II", "type": "quantitative", "title": null, "scale": {"domain": [-2.8e-5, 3.62e-5], "nice": false, "zero": false},
                  "axis": {"values": [-2.4e-5, -1.6e-5, -1.2e-5, -8e-6, -4e-6, 4e-6, 8e-6, 1.2e-5, 1.6e-5, 2.4e-5, 2.8e-5, 3.2e-5], "labels": false, "tickSize": -12, "orient": "left"}},
                "color": {"datum": "Ⅱ", "scale": {"domain": ["Ⅱ"], "range": ["#1F8A1F"]}, "legend": {"orient": "none", "legendX": 1055, "legendY": 32}}
              }
            },
            {
              "mark": "line",
              "encoding": {
                "x": {"field": "x", "type": "quantitative", "title": null, "scale": {"domain": [2014.66, 2026], "nice": false, "zero": false}, "axis": null},
                "y": {"field": "III", "type": "quantitative", "title": null, "scale": {"domain": [-2.8e-5, 3.62e-5], "nice": false, "zero": false}, "axis": null},
                "color": {"datum": "Ⅲ", "scale": {"domain": ["Ⅲ"], "range": ["#2323A6"]}, "legend": {"orient": "none", "legendX": 1287, "legendY": 32}}
              }
            }
          ],
          "resolve": {"scale": {"color": "independent"}, "axis": {"x": "independent", "y": "independent"}}
        }
      ]
    },
    {
      "spacing": 10,
      "hconcat": [
        {
          "title": "(c)CN10Y",
          "width": 1440,
          "height": 952,
          "data": {"name": "c"},
          "layer": [
            {
              "mark": "line",
              "encoding": {
                "x": {"field": "x", "type": "quantitative", "title": null, "scale": {"domain": [2014.66, 2026], "nice": false, "zero": false},
                  "axis": {"values": [2015, 2020, 2025], "format": "d", "tickSize": -30, "orient": "bottom"}},
                "y": {"field": "I", "type": "quantitative", "title": null, "scale": {"domain": [-2.99e-5, 6.0e-5], "nice": false, "zero": false},
                  "axis": {"values": [-2.5e-5, 0, 2.5e-5, 5e-5], "tickSize": -25, "orient": "left", "minExtent": 230, "maxExtent": 230,
                    "labelExpr": "datum.value > 4e-5 ? '5.0×10⁻⁵' : datum.value > 1e-5 ? '2.5×10⁻⁵' : datum.value > -1e-5 ? '0.0' : '−2.5×10⁻⁵'"}},
                "color": {"datum": "Ⅰ", "scale": {"domain": ["Ⅰ"], "range": ["#B02828"]}, "legend": {"orient": "none", "legendX": 804, "legendY": 33}}
              }
            },
            {
              "mark": "line",
              "encoding": {
                "x": {"field": "x", "type": "quantitative", "title": null, "scale": {"domain": [2014.66, 2026], "nice": false, "zero": false},
                  "axis": {"values": [2015, 2016, 2017, 2018, 2019, 2020, 2021, 2022, 2023, 2024, 2025], "labels": false, "tickSize": -17, "orient": "bottom"}},
                "y": {"field": "II", "type": "quantitative", "title": null, "scale": {"domain": [-2.99e-5, 6.0e-5], "nice": false, "zero": false},
                  "axis": {"values": [-2e-5, -1.5e-5, -1e-5, -5e-6, 5e-6, 1e-5, 1.5e-5, 2e-5, 3e-5, 3.5e-5, 4e-5, 4.5e-5, 5.5e-5], "labels": false, "tickSize": -10, "orient": "left"}},
                "color": {"datum": "Ⅱ", "scale": {"domain": ["Ⅱ"], "range": ["#1F8A1F"]}, "legend": {"orient": "none", "legendX": 1024, "legendY": 33}}
              }
            },
            {
              "mark": "line",
              "encoding": {
                "x": {"field": "x", "type": "quantitative", "title": null, "scale": {"domain": [2014.66, 2026], "nice": false, "zero": false}, "axis": null},
                "y": {"field": "III", "type": "quantitative", "title": null, "scale": {"domain": [-2.99e-5, 6.0e-5], "nice": false, "zero": false}, "axis": null},
                "color": {"datum": "Ⅲ", "scale": {"domain": ["Ⅲ"], "range": ["#2323A6"]}, "legend": {"orient": "none", "legendX": 1253, "legendY": 33}}
              }
            }
          ],
          "resolve": {"scale": {"color": "independent"}, "axis": {"x": "independent", "y": "independent"}}
        },
        {
          "title": {"text": "(d)Traditional-S", "offset": -10},
          "width": 1459,
          "height": 952,
          "data": {"name": "d"},
          "layer": [
            {
              "mark": "line",
              "encoding": {
                "x": {"field": "x", "type": "quantitative", "title": null, "scale": {"domain": [2014.66, 2026], "nice": false, "zero": false},
                  "axis": {"values": [2015, 2020, 2025], "format": "d", "tickSize": -30, "orient": "bottom"}},
                "y": {"field": "I", "type": "quantitative", "title": null, "scale": {"domain": [-4.04e-6, 1.503e-5], "nice": false, "zero": false},
                  "axis": {"values": [0, 5e-6, 1e-5, 1.5e-5], "tickSize": -25, "orient": "left", "minExtent": 202, "maxExtent": 202,
                    "labelExpr": "datum.value > 1.2e-5 ? '1.5×10⁻⁵' : datum.value > 7e-6 ? '1×10⁻⁵' : datum.value > 2e-6 ? '5×10⁻⁶' : '0'"}},
                "color": {"datum": "Ⅰ", "scale": {"domain": ["Ⅰ"], "range": ["#B02828"]}, "legend": {"orient": "none", "legendX": 821, "legendY": 33}}
              }
            },
            {
              "mark": "line",
              "encoding": {
                "x": {"field": "x", "type": "quantitative", "title": null, "scale": {"domain": [2014.66, 2026], "nice": false, "zero": false},
                  "axis": {"values": [2015, 2016, 2017, 2018, 2019, 2020, 2021, 2022, 2023, 2024, 2025], "labels": false, "tickSize": -17, "orient": "bottom"}},
                "y": {"field": "II", "type": "quantitative", "title": null, "scale": {"domain": [-4.04e-6, 1.503e-5], "nice": false, "zero": false},
                  "axis": {"values": [-3e-6, -2e-6, -1e-6, 1e-6, 2e-6, 3e-6, 4e-6, 6e-6, 7e-6, 8e-6, 9e-6, 1.1e-5, 1.2e-5, 1.3e-5, 1.4e-5], "labels": false, "tickSize": -12, "orient": "left"}},
                "color": {"datum": "Ⅱ", "scale": {"domain": ["Ⅱ"], "range": ["#1F8A1F"]}, "legend": {"orient": "none", "legendX": 1041, "legendY": 33}}
              }
            },
            {
              "mark": "line",
              "encoding": {
                "x": {"field": "x", "type": "quantitative", "title": null, "scale": {"domain": [2014.66, 2026], "nice": false, "zero": false}, "axis": null},
                "y": {"field": "III", "type": "quantitative", "title": null, "scale": {"domain": [-4.04e-6, 1.503e-5], "nice": false, "zero": false}, "axis": null},
                "color": {"datum": "Ⅲ", "scale": {"domain": ["Ⅲ"], "range": ["#2323A6"]}, "legend": {"orient": "none", "legendX": 1271, "legendY": 33}}
              }
            }
          ],
          "resolve": {"scale": {"color": "independent"}, "axis": {"x": "independent", "y": "independent"}}
        }
      ]
    },
    {
      "spacing": 10,
      "hconcat": [
        {
          "width": 556,
          "height": 948,
          "view": {"stroke": null},
          "data": {"values": []},
          "mark": "point"
        },
        {
          "title": "(e)DR007",
          "width": 1566,
          "height": 948,
          "data": {"name": "e"},
          "layer": [
            {
              "mark": "line",
              "encoding": {
                "x": {"field": "x", "type": "quantitative", "title": null, "scale": {"domain": [2014.66, 2026], "nice": false, "zero": false},
                  "axis": {"values": [2015, 2020, 2025], "format": "d", "tickSize": -30, "orient": "bottom"}},
                "y": {"field": "I", "type": "quantitative", "title": null, "scale": {"domain": [-5.09e-5, 1.208e-4], "nice": false, "zero": false},
                  "axis": {"values": [0, 1e-4], "tickSize": -25, "orient": "left", "minExtent": 163, "maxExtent": 163, "labelFont": "Liberation Serif", "labelFontSize": 58,
                    "labelExpr": "datum.value > 5e-5 ? '0.0001' : '0.0000'"}},
                "color": {"datum": "Ⅰ", "scale": {"domain": ["Ⅰ"], "range": ["#B02828"]}, "legend": {"orient": "none", "legendX": 893, "legendY": 34}}
              }
            },
            {
              "mark": "line",
              "encoding": {
                "x": {"field": "x", "type": "quantitative", "title": null, "scale": {"domain": [2014.66, 2026], "nice": false, "zero": false},
                  "axis": {"values": [2015, 2016, 2017, 2018, 2019, 2020, 2021, 2022, 2023, 2024, 2025], "labels": false, "tickSize": -17, "orient": "bottom"}},
                "y": {"field": "II", "type": "quantitative", "title": null, "scale": {"domain": [-5.09e-5, 1.208e-4], "nice": false, "zero": false},
                  "axis": {"values": [-4e-5, -3e-5, -2e-5, -1e-5, 1e-5, 2e-5, 3e-5, 4e-5, 5e-5, 6e-5, 7e-5, 8e-5, 9e-5, 1.1e-4], "labels": false, "tickSize": -12, "orient": "left"}},
                "color": {"datum": "Ⅱ", "scale": {"domain": ["Ⅱ"], "range": ["#1F8A1F"]}, "legend": {"orient": "none", "legendX": 1127, "legendY": 34}}
              }
            },
            {
              "mark": "line",
              "encoding": {
                "x": {"field": "x", "type": "quantitative", "title": null, "scale": {"domain": [2014.66, 2026], "nice": false, "zero": false}, "axis": null},
                "y": {"field": "III", "type": "quantitative", "title": null, "scale": {"domain": [-5.09e-5, 1.208e-4], "nice": false, "zero": false}, "axis": null},
                "color": {"datum": "Ⅲ", "scale": {"domain": ["Ⅲ"], "range": ["#2323A6"]}, "legend": {"orient": "none", "legendX": 1374, "legendY": 34}}
              }
            }
          ],
          "resolve": {"scale": {"color": "independent"}, "axis": {"x": "independent", "y": "independent"}}
        }
      ]
    }
  ]
}
